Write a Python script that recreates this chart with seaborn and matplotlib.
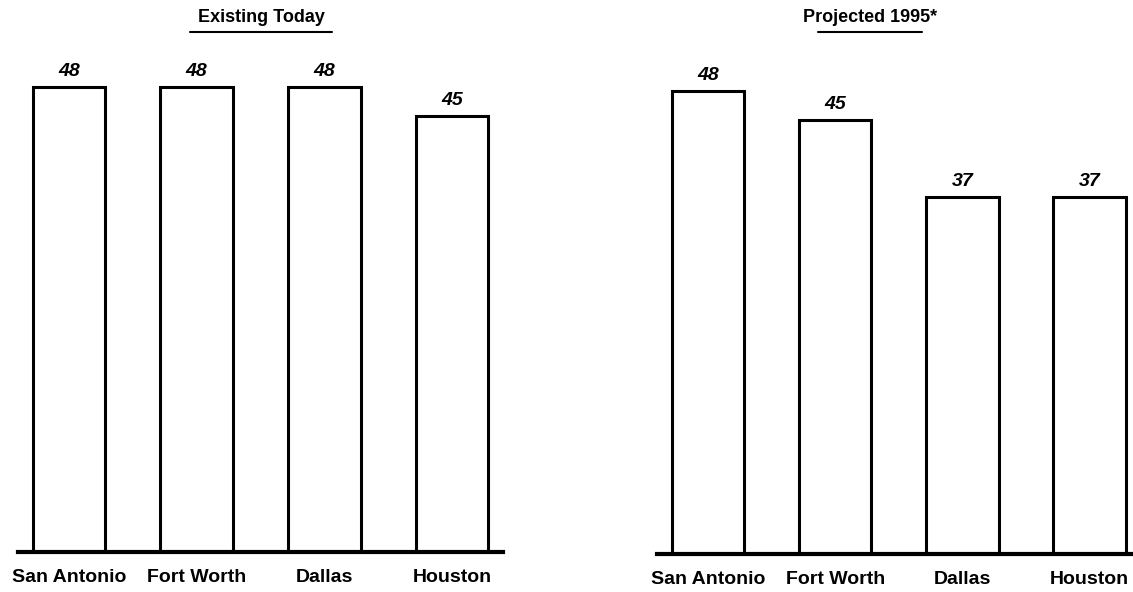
import matplotlib
matplotlib.use('Agg')
import matplotlib.pyplot as plt
import seaborn as sns
from matplotlib.lines import Line2D

# data
cities = ['San Antonio', 'Fort Worth', 'Dallas', 'Houston']
existing_today = [48, 48, 48, 45]
projected_1995 = [48, 45, 37, 37]
titles = ['Existing Today', 'Projected 1995*']

sns.set_theme(style='white')
plt.rcParams['font.family'] = ['Liberation Sans', 'DejaVu Sans']
plt.rcParams['text.color'] = 'black'
plt.rcParams['xtick.color'] = 'black'
plt.rcParams['xtick.labelcolor'] = 'black'

W, H = 1133, 592
fig = plt.figure(figsize=(W / 100, H / 100), dpi=100)

# axes boxes in pixel units: left, bottom (from bottom), width, height
boxes = [(18, 40, 485, 484), (657, 38, 476, 482)]
xlims = [(-0.40, 3.40), (-0.40, 3.34)]

for values, box, xl in zip([existing_today, projected_1995], boxes, xlims):
    l, b, w, h = box
    ax = fig.add_axes([l / W, b / H, w / W, h / H])
    sns.barplot(x=cities, y=values, ax=ax, color='white', edgecolor='black',
                linewidth=2.2, width=0.57, saturation=1)
    ax.bar_label(ax.containers[0], padding=5, fontsize=14, color='black',
                 fontweight='bold', fontstyle='italic')
    ax.set_xlim(*xl)
    ax.set_ylim(0, 50)
    for s in ['left', 'top', 'right']:
        ax.spines[s].set_visible(False)
    ax.spines['bottom'].set_linewidth(3)
    ax.spines['bottom'].set_color('black')
    ax.set_yticks([])
    ax.tick_params(axis='x', length=0, pad=12)
    for t in ax.get_xticklabels():
        t.set_fontsize(14)
        t.set_fontweight('bold')
        t.set_color('black')
    ax.set_xlabel('')
    ax.set_ylabel('')

# titles with underline
title_pos = [(261, 190, 332), (870, 818, 922)]
for title, (cx, x0, x1) in zip(titles, title_pos):
    fig.text(cx / W, 1 - 18 / H, title, ha='center', va='center',
             fontsize=13, fontweight='bold', color='black')
    fig.add_artist(Line2D([x0 / W, x1 / W], [1 - 32 / H, 1 - 32 / H],
                          transform=fig.transFigure, color='black', lw=1.5))

plt.savefig('out.png', dpi=100)
